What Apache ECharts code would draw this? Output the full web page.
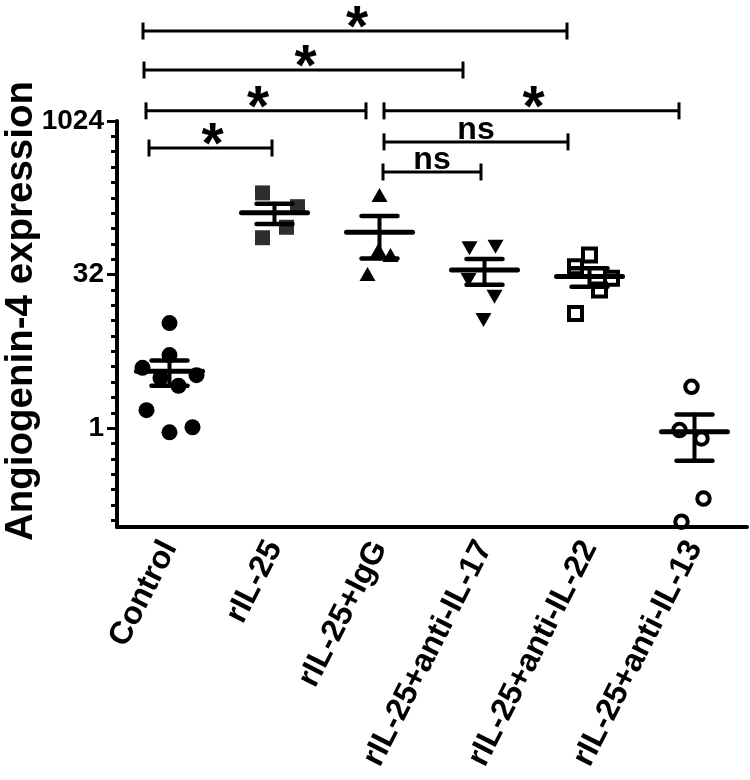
<!DOCTYPE html>
<html><head><meta charset="utf-8">
<script src="https://cdn.jsdelivr.net/npm/echarts@6/dist/echarts.min.js"></script>
<style>html,body{margin:0;padding:0;background:#fff}#c{width:750px;height:780px}</style>
</head><body><div id="c"></div>
<script>
// ---- data (linear fold-expression units) ----
const categories = ['Control','rIL-25','rIL-25+IgG','rIL-25+anti-IL-17','rIL-25+anti-IL-22','rIL-25+anti-IL-13'];
const controlValues  = [10.7, 5.2, 3.9, 3.3, 3.1, 2.6, 1.5, 0.91, 1.02];
const rIL25Values    = [202, 148, 93, 73.5];
const igGValues      = [193, 55.6, 49.7, 32.4];
const antiIL17Values = [57.8, 60, 28.3, 19.4, 11.5];
const antiIL22Values = [49.7, 38.1, 29.4, 22.6, 13.3];
const antiIL13Values = [2.54, 0.956, 0.792, 0.204, 0.121];
const groupMeans = [3.6, 129, 83, 35.4, 30.6, 0.92];
const groupSEM   = [1.0, 29, 37, 10, 6.3, 0.44];
const yTickValues = [1, 32, 1024];
const yTickLabels = ['1', '32', '1024'];
// significance brackets: groups compared, height (log2 units), label
const brackets = [
  {from: 0, to: 4, level: 12.93, text: '*'},
  {from: 0, to: 3, level: 11.66, text: '*'},
  {from: 0, to: 2, level: 10.33, text: '*'},
  {from: 2, to: 5, level: 10.33, text: '*'},
  {from: 0, to: 1, level: 9.12,  text: '*'},
  {from: 2, to: 4, level: 9.32,  text: 'ns'},
  {from: 2, to: 3, level: 8.34,  text: 'ns'}
];

// ---- layout / styling (pixel offsets, not data) ----
const spreadPx = [
  [0, 0, -27, 27, -9, 9, -23, 0, 23],
  [-12, 23, 12, -12],
  [0, -1, 11, -12],
  [-15, 11, -16, 10, -1],
  [0, -14, 22, 10, -14],
  [-3, -15, 7, 9, -13]
];
const bracketEndsPx = [[-26.5,-22.5],[-25.5,-21.5],[-23.5,-13.5],[4.5,-15.5],[-20.5,-2.5],[4.5,-21.5],[3.5,-3.5]];
const FONT = 'Liberation Sans';
const yMin = Math.pow(2, -3.22), yMax = 1024;
const minorTicks = [];
for (let k = -6; k <= 20; k++) minorTicks.push(Math.pow(2, k / 2));

const groups = [controlValues, rIL25Values, igGValues, antiIL17Values, antiIL22Values, antiIL13Values];
const symbolStyles = [
  {symbol: 'circle', symbolSize: 16, itemStyle: {color: '#000', opacity: 1}},
  {symbol: 'rect', symbolSize: 15, itemStyle: {color: '#2e2e2e', opacity: 1}},
  {symbol: 'triangle', symbolSize: [16, 14], itemStyle: {color: '#000', opacity: 1}},
  {symbol: 'triangle', symbolSize: [16, 14], symbolRotate: 180, itemStyle: {color: '#000', opacity: 1}},
  {symbol: 'rect', symbolSize: 13, itemStyle: {color: 'rgba(0,0,0,0)', borderColor: '#000', borderWidth: 4, opacity: 1}},
  {symbol: 'circle', symbolSize: 12.5, itemStyle: {color: 'rgba(0,0,0,0)', borderColor: '#000', borderWidth: 4, opacity: 1}}
];

const series = groups.map((vals, gi) => Object.assign({
  type: 'scatter', z: 2, silent: true, emphasis: {disabled: true},
  data: vals.map((v, k) => ({value: [gi, v], symbolOffset: [spreadPx[gi][k], 0]}))
}, symbolStyles[gi]));

series.push({
  type: 'custom', z: 3, silent: true,
  data: groupMeans.map((m, i) => [i, m, groupSEM[i]]),
  renderItem: function (params, api) {
    const i = api.value(0), m = api.value(1), s = api.value(2);
    const c = api.coord([i, m]), u = api.coord([i, m + s]), l = api.coord([i, m - s]);
    const st = (w) => ({stroke: '#000', lineWidth: w, lineCap: 'round'});
    return {type: 'group', children: [
      {type: 'line', shape: {x1: c[0], y1: u[1], x2: c[0], y2: l[1]}, style: st(4)},
      {type: 'line', shape: {x1: c[0] - 33, y1: c[1], x2: c[0] + 33, y2: c[1]}, style: st(5)},
      {type: 'line', shape: {x1: c[0] - 18, y1: u[1], x2: c[0] + 18, y2: u[1]}, style: st(4.5)},
      {type: 'line', shape: {x1: c[0] - 18, y1: l[1], x2: c[0] + 18, y2: l[1]}, style: st(4.5)}
    ]};
  }
});

series.push({
  type: 'custom', z: 4, silent: true, clip: false,
  data: brackets.map((b, i) => [b.from, Math.pow(2, b.level), b.to, i]),
  renderItem: function (params, api) {
    const i = params.dataIndex, b = brackets[i];
    const p1 = api.coord([b.from, Math.pow(2, b.level)]);
    const p2 = api.coord([b.to, Math.pow(2, b.level)]);
    const y = p1[1];
    const x1 = p1[0] + bracketEndsPx[i][0], x2 = p2[0] + bracketEndsPx[i][1];
    const st = {stroke: '#000', lineWidth: 3};
    const star = b.text === '*';
    return {type: 'group', children: [
      {type: 'line', shape: {x1: x1, y1: y, x2: x2, y2: y}, style: st},
      {type: 'line', shape: {x1: x1, y1: y - 8.5, x2: x1, y2: y + 8.5}, style: st},
      {type: 'line', shape: {x1: x2, y1: y - 8.5, x2: x2, y2: y + 8.5}, style: st},
      {type: 'text', style: {text: b.text, x: (x1 + x2) / 2 + (star ? 2 : 0), y: star ? y - 1 : y - 12,
        align: 'center', verticalAlign: 'middle', fill: '#000',
        fontFamily: FONT, fontWeight: 'bold', fontSize: star ? 57 : 32}}
    ]};
  }
});

const chart = echarts.init(document.getElementById('c'), null, {renderer: 'canvas'});
chart.setOption({
  animation: false,
  backgroundColor: '#fff',
  grid: {left: 117, right: 3, top: 121, bottom: 253, containLabel: false},
  xAxis: {
    type: 'category', data: categories, boundaryGap: true,
    axisLine: {onZero: false, lineStyle: {color: '#000', width: 4}},
    axisTick: {alignWithLabel: true, length: 9, lineStyle: {color: '#000', width: 3}},
    axisLabel: {interval: 0, rotate: 63, fontSize: 32, fontWeight: 'bold', fontFamily: FONT, color: '#000', margin: 16},
    splitLine: {show: false}
  },
  yAxis: [
    {
      type: 'log', logBase: 2, min: yMin, max: yMax, position: 'left',
      axisLine: {show: true, lineStyle: {color: '#000', width: 4}},
      axisTick: {show: true, customValues: minorTicks, length: 6, lineStyle: {color: '#000', width: 3}},
      axisLabel: {show: false}, splitLine: {show: false}, minorSplitLine: {show: false}
    },
    {
      type: 'log', logBase: 2, min: yMin, max: yMax, position: 'left', offset: 0,
      axisLine: {show: false},
      axisTick: {show: true, customValues: yTickValues, length: 10, lineStyle: {color: '#000', width: 3}},
      axisLabel: {customValues: yTickValues, fontSize: 28, fontWeight: 'bold', fontFamily: FONT, color: '#000', margin: 13,
        formatter: function (v) {
          let best = 0;
          yTickValues.forEach((t, i) => { if (Math.abs(Math.log2(t) - Math.log2(v)) < Math.abs(Math.log2(yTickValues[best]) - Math.log2(v))) best = i; });
          return yTickLabels[best];
        }},
      splitLine: {show: false}
    }
  ],
  graphic: [{
    type: 'text', x: 21, y: 311, rotation: Math.PI / 2,
    style: {text: 'Angiogenin-4 expression', fontFamily: FONT, fontWeight: 'bold', fontSize: 38.5, fill: '#000', align: 'center', verticalAlign: 'middle'}
  }],
  series: series
});
</script></body></html>
